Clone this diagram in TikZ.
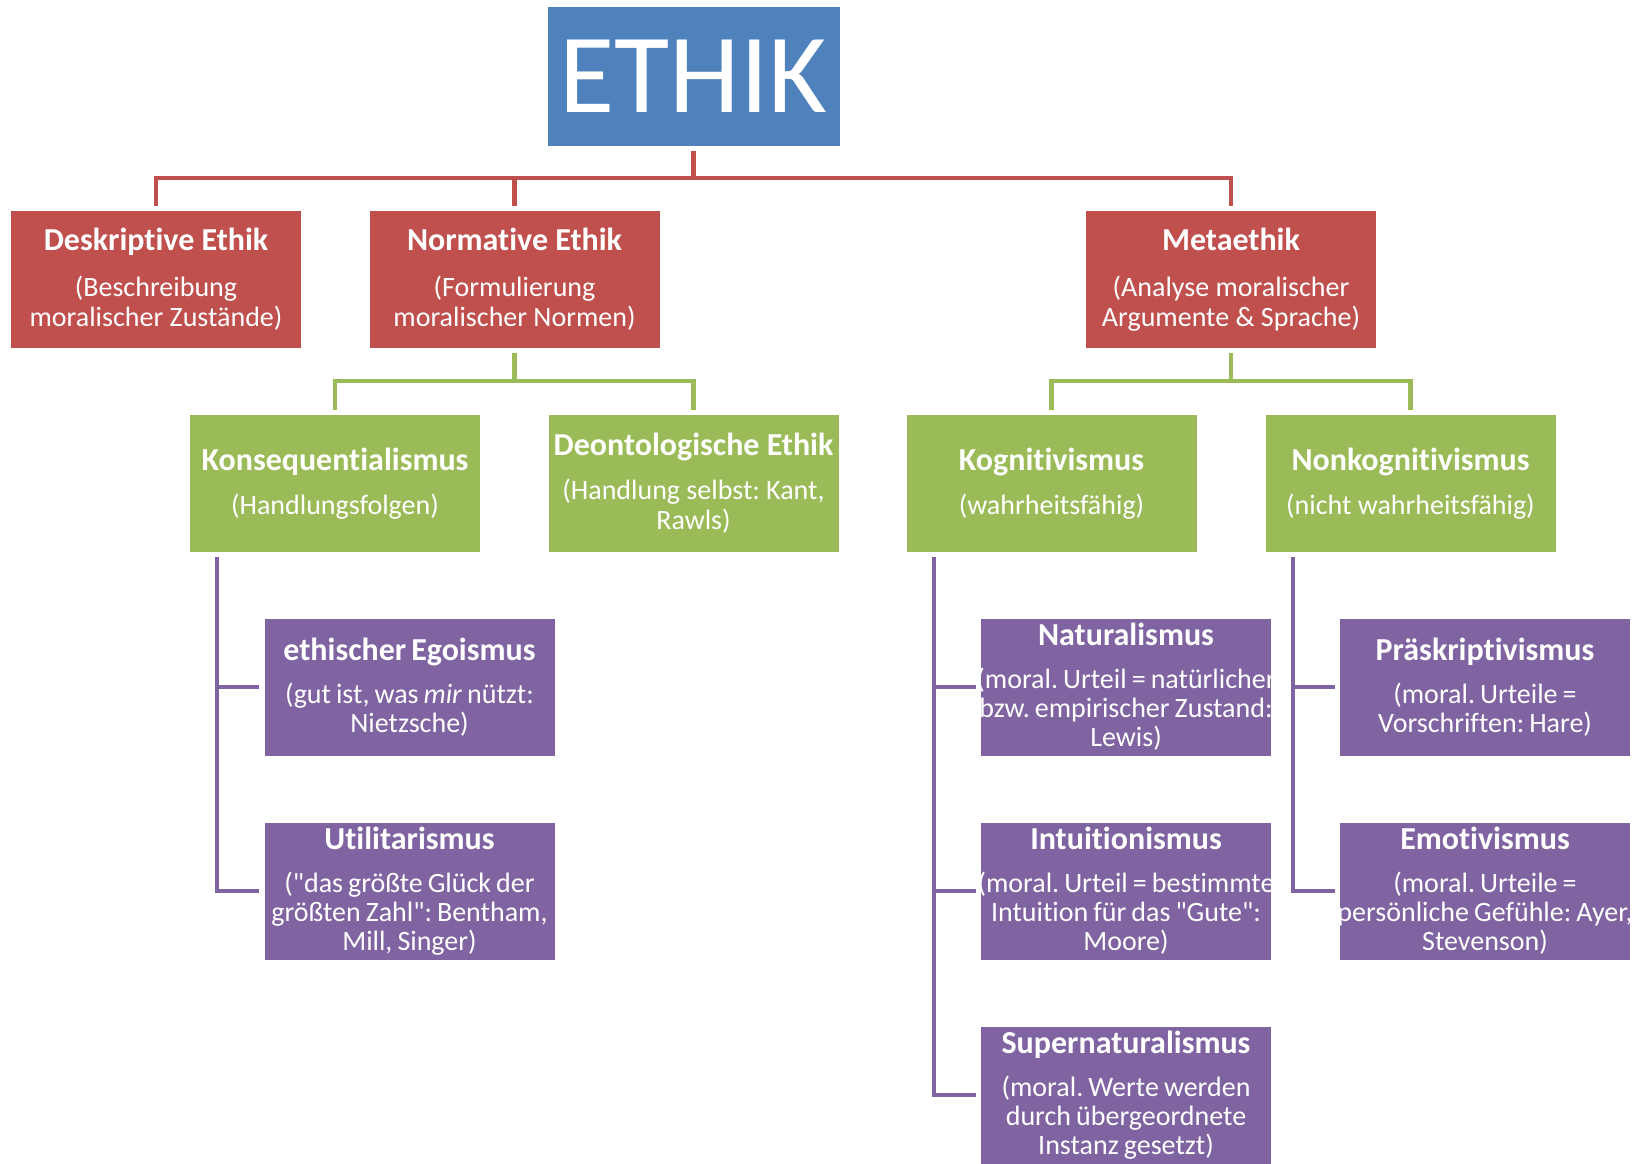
\documentclass[tikz,border=0pt]{standalone}
\usepackage{fontspec}
\setmainfont{Carlito}[Ligatures={TeXOff,NoCommon}]
\frenchspacing
\definecolor{ethblue}{HTML}{4F81BD}
\definecolor{ethred}{HTML}{C0504D}
\definecolor{ethgreen}{HTML}{9BBB59}
\definecolor{ethpurple}{HTML}{8064A2}
\newcommand{\boxttl}[1]{{\fontsize{32}{32}\selectfont\bfseries #1}}
\newcommand{\tightwords}{\fontsize{28}{29}\selectfont\spaceskip=0.18em plus 0.05em\relax}
\begin{document}
\begin{tikzpicture}[x=1pt,y=-1pt,
  box/.style={rectangle, draw=none, inner sep=0pt, minimum width=290pt, minimum height=137pt},
  rootbox/.style={box, fill=ethblue, minimum width=292pt, minimum height=139pt},
  redbox/.style={box, fill=ethred},
  greenbox/.style={box, fill=ethgreen},
  purplebox/.style={box, fill=ethpurple},
  boxtext/.style={text=white, align=center, inner sep=0pt, font=\fontsize{28}{30}\selectfont},
  tighttext/.style={boxtext, font=\tightwords},
  link/.style={line width=4.5pt, shorten <=5pt, shorten >=5pt},
  redline/.style={link, draw=ethred},
  greenline/.style={link, draw=ethgreen},
  purpleline/.style={link, draw=ethpurple}]
\useasboundingbox (0,0) rectangle (1635,1163);

% root
\node[rootbox] (ethik) at (693.5,76.5) {};
\node[text=white, inner sep=0pt, font=\fontsize{113}{113}\selectfont] (ethik-t) at (ethik) {ETHIK};

% first level
\node[redbox] (desk) at (156,279.5) {};
\node[redbox] (norm) at (514.5,279.5) {};
\node[redbox] (meta) at (1231,279.5) {};
\node[boxtext] (desk-t) at (desk) {\boxttl{Deskriptive Ethik}\\[16pt](Beschreibung\\moralischer Zustände)};
\node[boxtext] (norm-t) at (norm) {\boxttl{Normative Ethik}\\[16pt](Formulierung\\moralischer Normen)};
\node[boxtext] (meta-t) at (meta) {\boxttl{Metaethik}\\[16pt](Analyse moralischer\\Argumente \& Sprache)};

% second level
\node[greenbox] (kons) at (335,483.5) {};
\node[greenbox] (deon) at (693.5,483.5) {};
\node[greenbox] (kog) at (1051.5,483.5) {};
\node[greenbox] (nonkog) at (1410.5,483.5) {};
\node[boxtext] (kons-t) at (kons) {\boxttl{Konsequentialismus}\\[14pt](Handlungsfolgen)};
\node[boxtext] (deon-t) at (deon) {\boxttl{Deontologische Ethik}\\[14pt](Handlung selbst: Kant,\\Rawls)};
\node[boxtext] (kog-t) at (kog) {\boxttl{Kognitivismus}\\[14pt](wahrheitsfähig)};
\node[boxtext] (nonkog-t) at (nonkog) {\boxttl{Nonkognitivismus}\\[14pt](nicht wahrheitsfähig)};

% third level
\node[purplebox] (ego) at (409.5,687) {};
\node[purplebox] (util) at (409.5,891) {};
\node[purplebox] (nat) at (1126,687) {};
\node[purplebox] (intu) at (1126,891) {};
\node[purplebox] (sup) at (1126,1095) {};
\node[purplebox] (pras) at (1485,687) {};
\node[purplebox] (emo) at (1485,891) {};
\node[tighttext] (ego-t) at (ego) {\boxttl{ethischer Egoismus}\\[14pt](gut ist, was \emph{mir} nützt:\\Nietzsche)};
\node[tighttext] (util-t) at (util) {\boxttl{Utilitarismus}\\[14pt]("das größte Glück der\\größten Zahl": Bentham,\\Mill, Singer)};
\node[tighttext] (nat-t) at (nat) {\boxttl{Naturalismus}\\[14pt](moral. Urteil = natürlicher\\bzw. empirischer Zustand:\\Lewis)};
\node[tighttext] (intu-t) at (intu) {\boxttl{Intuitionismus}\\[14pt](moral. Urteil = bestimmte\\Intuition für das "Gute":\\Moore)};
\node[tighttext] (sup-t) at (sup) {\boxttl{Supernaturalismus}\\[14pt](moral. Werte werden\\durch übergeordnete\\Instanz gesetzt)};
\node[tighttext] (pras-t) at (pras) {\boxttl{Präskriptivismus}\\[14pt](moral. Urteile =\\Vorschriften: Hare)};
\node[tighttext] (emo-t) at (emo) {\boxttl{Emotivismus}\\[14pt](moral. Urteile =\\persönliche Gefühle: Ayer,\\Stevenson)};

% bus levels and stems
\coordinate (rbus) at (693.5,178);
\coordinate (gbus) at (514.5,381);
\coordinate (mbus) at (1231,381);
\coordinate (kstem) at (217,552);
\coordinate (cstem) at (934,552);
\coordinate (nstem) at (1293,552);

% connectors
\foreach \c in {desk,norm,meta}
  \draw[redline] (ethik.south) -- (ethik.south |- rbus) -| (\c.north);
\foreach \c in {kons,deon}
  \draw[greenline] (norm.south) -- (norm.south |- gbus) -| (\c.north);
\foreach \c in {kog,nonkog}
  \draw[greenline] (meta.south) -- (meta.south |- mbus) -| (\c.north);
\foreach \c in {ego,util}
  \draw[purpleline] (kstem) |- (\c.west);
\foreach \c in {nat,intu,sup}
  \draw[purpleline] (cstem) |- (\c.west);
\foreach \c in {pras,emo}
  \draw[purpleline] (nstem) |- (\c.west);
\end{tikzpicture}
\end{document}
